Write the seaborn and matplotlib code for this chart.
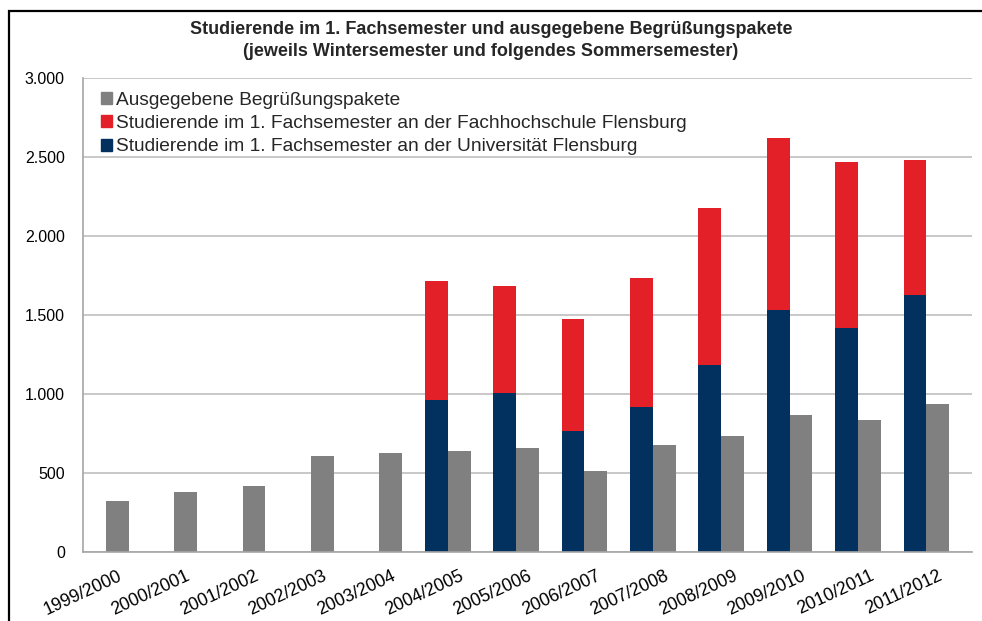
import numpy as np
import pandas as pd
import seaborn as sns
import matplotlib.pyplot as plt
from matplotlib.patches import Patch, Rectangle
from matplotlib.ticker import FuncFormatter, FixedLocator

years = ['1999/2000', '2000/2001', '2001/2002', '2002/2003', '2003/2004',
         '2004/2005', '2005/2006', '2006/2007', '2007/2008', '2008/2009',
         '2009/2010', '2010/2011', '2011/2012']
pakete = [320, 382, 420, 606, 625, 639, 656, 511, 675, 734, 865, 833, 938]
# Studierende erst ab 2004/2005
stud_years = years[5:]
uni = [964, 1008, 766, 920, 1185, 1532, 1416, 1627]
fh = [749, 676, 709, 812, 990, 1086, 1054, 854]

c_grey = '#808080'
c_red = '#e32027'
c_blue = '#02305f'

sns.set_theme(style='white')
plt.rcParams['font.family'] = ['Liberation Sans', 'DejaVu Sans']

# drei Slots pro Jahr: Stapel, Pakete, Luecke
slots = []
for y in years:
    slots += [y + '_s', y + '_p', y + '_x']

df_stud = pd.DataFrame({'slot': [y + '_s' for y in stud_years], 'uni': uni, 'fh': fh})
df_stud['gesamt'] = df_stud['uni'] + df_stud['fh']
df_pak = pd.DataFrame({'slot': [y + '_p' for y in years], 'pakete': pakete})

fig = plt.figure(figsize=(9.82, 6.21), dpi=100)
ax = fig.add_axes([83 / 982, 1 - 552 / 621, (972 - 83) / 982, (552 - 78) / 621])

kw = dict(order=slots, width=1, saturation=1, errorbar=None, linewidth=0, ax=ax)
sns.barplot(data=df_stud, x='slot', y='gesamt', color=c_red, **kw)
sns.barplot(data=df_stud, x='slot', y='uni', color=c_blue, **kw)
sns.barplot(data=df_pak, x='slot', y='pakete', color=c_grey, **kw)

ax.set_xlim(-0.5, len(slots) - 0.5)
ax.set_ylim(0, 3000)
ax.set_yticks(np.arange(0, 3001, 500))
ax.yaxis.set_major_formatter(FuncFormatter(lambda v, p: f'{int(v):,}'.replace(',', '.')))
ax.set_axisbelow(True)
ax.yaxis.grid(True, color='#bfbfbf', linewidth=1.2)
ax.set_xlabel('')
ax.set_ylabel('')

pos = [slots.index(y + '_p') for y in years]
ax.set_xticks(pos)
ax.set_xticklabels(years, rotation=25, ha='right', rotation_mode='anchor', fontsize=12.8)
ax.xaxis.set_minor_locator(FixedLocator(np.arange(-0.5, len(slots), 1)))
ax.tick_params(axis='x', which='major', length=0, pad=11)
ax.tick_params(axis='x', which='minor', length=5, color='#a6a6a6', width=1)
ax.tick_params(axis='y', length=5, color='#a6a6a6', width=1, labelsize=11.5, pad=8)
ax.tick_params(axis='both', labelcolor='black')
for lab in ax.get_xticklabels():
    lab.set_va('top')

for s in ['top', 'right']:
    ax.spines[s].set_visible(False)
for s in ['left', 'bottom']:
    ax.spines[s].set_color('#a6a6a6')
    ax.spines[s].set_linewidth(1.2)

handles = [Patch(color=c_grey), Patch(color=c_red), Patch(color=c_blue)]
labels = ['Ausgegebene Begrüßungspakete',
          'Studierende im 1. Fachsemester an der Fachhochschule Flensburg',
          'Studierende im 1. Fachsemester an der Universität Flensburg']
ax.legend(handles, labels, loc='upper left', bbox_to_anchor=((93 - 83) / 889, 1 - (84 - 78) / 474),
          bbox_transform=ax.transAxes, frameon=False, fontsize=13.8, handlelength=0.58, handleheight=0.58,
          handletextpad=0.2, labelspacing=0.33, borderaxespad=0)

fig.text(0.5, 1 - 21 / 621,
         'Studierende im 1. Fachsemester und ausgegebene Begrüßungspakete\n'
         '(jeweils Wintersemester und folgendes Sommersemester)',
         ha='center', va='top', fontsize=13, fontweight='bold', linespacing=1.35)

fig.patches.append(Rectangle((8.5 / 982, -0.1), 1.2, 1.1 - 10.5 / 621, transform=fig.transFigure,
                             fill=False, edgecolor='black', linewidth=1.6))

fig.savefig('out.png', dpi=100)
